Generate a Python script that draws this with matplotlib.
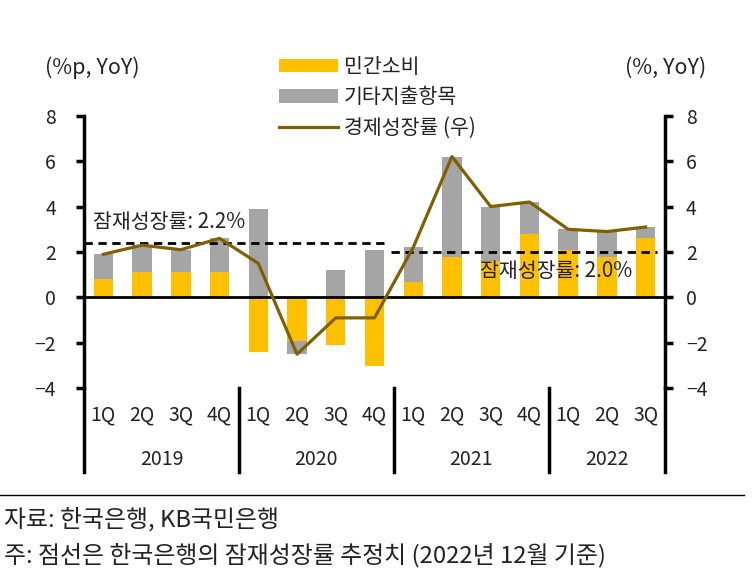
import matplotlib
matplotlib.use("Agg")
import matplotlib.pyplot as plt
import matplotlib.transforms as mtransforms
from matplotlib.lines import Line2D
from matplotlib.patches import Patch

plt.rcParams["font.family"] = ["Noto Sans CJK KR", "DejaVu Sans"]
plt.rcParams["axes.unicode_minus"] = True

# 데이터
quarters = ["1Q", "2Q", "3Q", "4Q"] * 3 + ["1Q", "2Q", "3Q"]
years = ["2019", "2020", "2021", "2022"]
consumption = [0.8, 1.1, 1.1, 1.1, -2.4, -1.9, -2.1, -3.0, 0.7, 1.8, 1.6, 2.8, 2.1, 1.8, 2.6]
other = [1.1, 1.2, 1.0, 1.5, 3.9, -0.6, 1.2, 2.1, 1.5, 4.4, 2.4, 1.4, 0.9, 1.1, 0.5]
gdp = [1.9, 2.3, 2.1, 2.6, 1.5, -2.5, -0.9, -0.9, 2.2, 6.2, 4.0, 4.2, 3.0, 2.9, 3.1]
potential_old = 2.4   # 그림상 점선 위치 (라벨은 2.2%)
potential_new = 2.0

YELLOW = "#FFC000"
GRAY = "#A5A5A5"
LINE = "#7F6000"
TXT = "#222222"
FS = 14          # 눈금
FS_KR = 14.8     # 범례/주석
FS_NOTE = 17.2   # 하단 출처

fig = plt.figure(figsize=(7.52, 5.76), dpi=100)
ax = fig.add_axes([0.1117, 0.3259, 0.7726, 0.4732])
x = list(range(len(consumption)))

# 누적 막대: 음수/양수 따로 쌓기
for i in x:
    c, o = consumption[i], other[i]
    ax.bar(i, c, width=0.5, color=YELLOW, zorder=2)
    if (c >= 0) == (o >= 0):
        base = c
    else:
        base = 0
    ax.bar(i, o, width=0.5, bottom=base, color=GRAY, zorder=2)

ax.axhline(0, color="black", lw=2, zorder=3)

# 잠재성장률 점선
ax.plot([-0.5, 7.35], [potential_old, potential_old], color="black", lw=2,
        linestyle=(0, (3, 2)), zorder=4)
ax.plot([7.43, 14.3], [potential_new, potential_new], color="black", lw=2,
        linestyle=(0, (3, 2)), zorder=4)
ax.text(-0.27, 3.34, "잠재성장률: 2.2%", fontsize=FS_KR, color=TXT, va="center", zorder=5)
ax.text(9.72, 1.15, "잠재성장률: 2.0%", fontsize=FS_KR, color=TXT, va="center", zorder=5)

ax.set_xlim(-0.5, 14.5)
ax.set_ylim(-4, 8)
ax.set_yticks([-4, -2, 0, 2, 4, 6, 8])
ax.set_xticks([])
for s in ["top", "bottom"]:
    ax.spines[s].set_visible(False)
ax.spines["left"].set_linewidth(2.5)
ax.spines["right"].set_visible(False)
ax.tick_params(axis="y", direction="out", length=6, width=2.5, pad=14,
               labelsize=FS, labelcolor=TXT)

ax2 = ax.twinx()
ax2.set_position(ax.get_position())
ax2.plot(x, gdp, color=LINE, lw=2.3, zorder=6)
ax2.set_ylim(-4, 8)
ax2.set_yticks([-4, -2, 0, 2, 4, 6, 8])
for s in ["top", "bottom", "left"]:
    ax2.spines[s].set_visible(False)
ax2.spines["right"].set_linewidth(2.5)
ax2.tick_params(axis="y", direction="out", length=6, width=2.5, pad=9,
                labelsize=FS, labelcolor=TXT)

# 카테고리 축 (분기/연도)
trans = mtransforms.blended_transform_factory(ax.transData, ax.transAxes)
for i, q in enumerate(quarters):
    ax.text(i, -0.098, q, transform=trans, ha="center", va="center",
            fontsize=FS, color=TXT)
year_bounds = [-0.5, 3.5, 7.5, 11.5, 14.5]
for k, yr in enumerate(years):
    mid = (year_bounds[k] + year_bounds[k + 1]) / 2
    ax.text(mid, -0.263, yr, transform=trans, ha="center", va="center",
            fontsize=FS, color=TXT)
for b in year_bounds:
    ax.add_line(Line2D([b, b], [0, -0.307], transform=trans, color="black",
                       lw=2.5, clip_on=False))

# 축 제목
fig.text(0.06, 0.882, "(%p, YoY)", fontsize=15.5, color=TXT, va="center")
fig.text(0.831, 0.882, "(%, YoY)", fontsize=15.5, color=TXT, va="center")

# 범례
handles = [Patch(facecolor=YELLOW, edgecolor="none"),
           Patch(facecolor=GRAY, edgecolor="none"),
           Line2D([], [], color=LINE, lw=2.3)]
labels = ["민간소비", "기타지출항목", "경제성장률 (우)"]
fig.legend(handles, labels, loc="upper left", bbox_to_anchor=(0.36, 0.917),
           frameon=False, fontsize=FS_KR, handlelength=2.85, handleheight=0.6,
           handletextpad=0.3, labelspacing=0.4, borderaxespad=0,
           labelcolor=TXT)

# 하단 구분선과 출처
fig.add_artist(Line2D([0.0, 0.99], [1 - 495 / 576, 1 - 495 / 576],
                      transform=fig.transFigure, color="black", lw=1))
fig.text(0.005, 1 - 519 / 576, "자료: 한국은행, KB국민은행", fontsize=FS_NOTE,
         color=TXT, va="center")
fig.text(0.005, 1 - 555 / 576, "주: 점선은 한국은행의 잠재성장률 추정치 (2022년 12월 기준)",
         fontsize=FS_NOTE, color=TXT, va="center")

fig.savefig("out.png", dpi=100)
